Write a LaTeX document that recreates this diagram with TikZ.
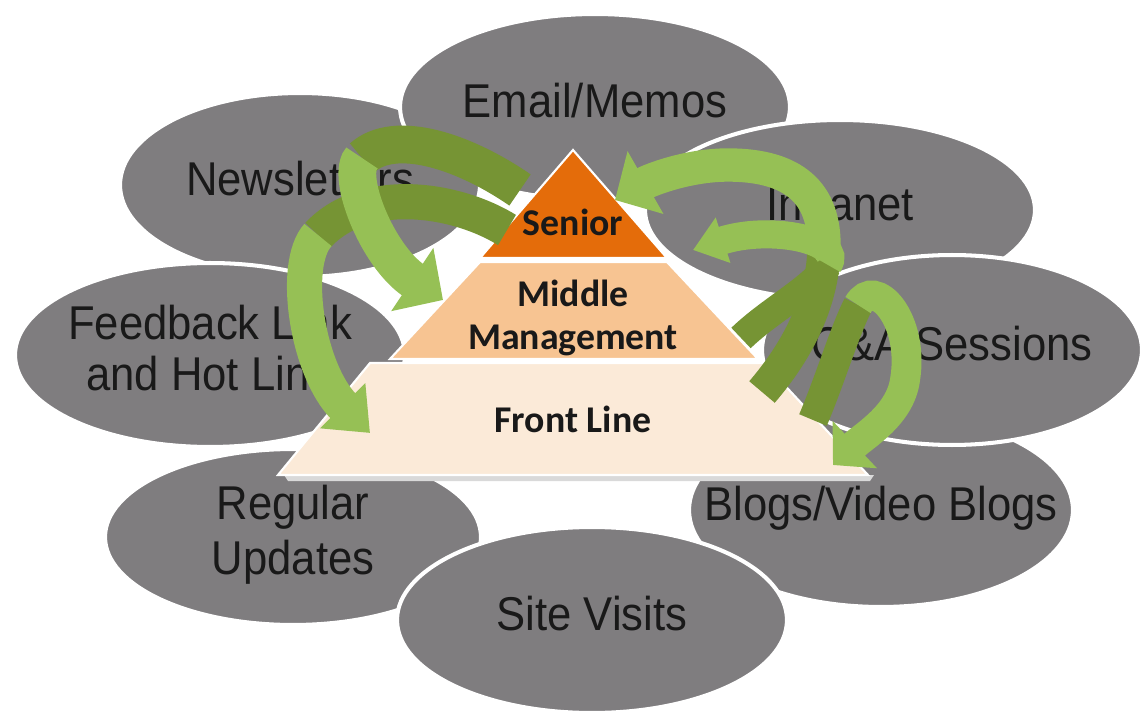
\documentclass[tikz,border=0pt]{standalone}
\usepackage{fontspec}
\usetikzlibrary{shapes.geometric,arrows.meta}

\newfontfamily\chanfont{Liberation Sans}[FakeStretch=0.92]
\newfontfamily\tierfont{Carlito}

\definecolor{chgray}{RGB}{127,125,127}
\definecolor{seniorc}{RGB}{228,108,10}
\definecolor{middlec}{RGB}{247,196,146}
\definecolor{frontc}{RGB}{251,234,216}
\definecolor{darkgr}{RGB}{118,148,52}
\definecolor{lightgr}{RGB}{150,192,85}

\newcommand{\chtext}[1]{\makebox[0pt]{\begin{tabular}{@{}c@{}}#1\end{tabular}}}

\begin{document}
\begin{tikzpicture}[x=0.02cm,y=-0.02cm,
    chan/.style={ellipse,fill=chgray,draw=white,line width=2.3pt,inner sep=0pt,
      font=\chanfont\fontsize{27}{29}\selectfont,text=black!90},
    tier/.style={font=\tierfont\bfseries\fontsize{21.5}{24}\selectfont,text=black!90,align=center},
    band/.style={line width=#1,line cap=butt},
    head/.style 2 args={-{Triangle[width=#1,length=#2]}}]

  \useasboundingbox (0,0) rectangle (1140,716);

  % channels
  \node[chan,minimum width=7.2cm,minimum height=3.68cm](news)at(300,185){\chtext{Newsletters}};
  \node[chan,minimum width=7.8cm,minimum height=3.72cm](email)at(595,107){\chtext{Email/Memos}};
  \node[chan,minimum width=7.8cm,minimum height=3.6cm](intra)at(840,210){\chtext{Intranet}};
  \node[chan,minimum width=7.68cm,minimum height=3.88cm](blogs)at(881,510){\chtext{Blogs/Video Blogs}};
  \node[chan,minimum width=7.6cm,minimum height=3.8cm](qa)at(952,350){\chtext{Q\&A Sessions}};
  \node[chan,minimum width=7.52cm,minimum height=3.52cm](reg)at(293,537){\chtext{Regular\\[2pt]Updates}};
  \node[chan,minimum width=7.8cm,minimum height=3.68cm](feed)at(210,355){\chtext{Feedback Link\\and Hot Line}};
  \node[chan,minimum width=7.8cm,minimum height=3.72cm](site)at(592,620){\chtext{Site Visits}};

  % pyramid
  \fill[black!15] (284,475) -- (874,475) -- (870,481) -- (288,481) -- cycle;
  \filldraw[fill=frontc,draw=white,line width=1.2pt] (278,475) -- (868,475) -- (764,363) -- (370,363) -- cycle;
  \filldraw[fill=middlec,draw=white,line width=1.2pt] (390,359) -- (758,359) -- (667,262) -- (480,262) -- cycle;
  \filldraw[fill=seniorc,draw=white,line width=1.2pt] (480,258) -- (667,258) -- (573,150) -- cycle;
  \node[tier](senior)at(573,222){Senior};
  \node[tier](middle)at(573,318){Middle\\Management};
  \node[tier](front)at(573,419){Front Line};

  % arrow ends
  \coordinate (la-tail) at (520,190);
  \coordinate (la-bend) at (362,158);
  \coordinate (la-tip) at (443,300);
  \coordinate (lb-tail) at (507,230);
  \coordinate (lb-bend) at (318,235);
  \coordinate (lb-tip) at (370,433);
  \coordinate (ra-tail) at (762,392);
  \coordinate (ra-bend) at (824,245);
  \coordinate (ra-top) at (728,165);
  \coordinate (ra-tip) at (615,200);
  \coordinate (rb-tail) at (741,338);
  \coordinate (rb-bend) at (828,265);
  \coordinate (rb-tip) at (693,250);
  \coordinate (rc-tail) at (813,420);
  \coordinate (rc-bend) at (858,305);
  \coordinate (rc-side) at (905,380);
  \coordinate (rc-tip) at (833,465);

  % left arrows
  \draw[darkgr,band=20pt] (lb-tail) .. controls +(-52,-32) and +(47,-50) .. (lb-bend);
  \draw[lightgr,band=20pt,head={35pt}{22pt}] (lb-bend) .. controls +(-27,29) and +(-63,-63) .. (lb-tip);
  \draw[darkgr,band=21.5pt] (la-tail) .. controls +(-55,-38) and +(33,-30) .. (la-bend);
  \draw[lightgr,band=21.5pt,head={42pt}{21pt}] (la-bend) .. controls +(-17,17) and +(-66,-44) .. (la-tip);

  % right arrows
  \draw[darkgr,band=19pt] (ra-tail) .. controls +(36,-42) and +(0,55) .. (ra-bend);
  \draw[lightgr,band=19pt,head={40pt}{20pt}] (ra-bend) .. controls +(0,-58) and +(58,0) .. (ra-top)
    .. controls +(-40,0) and +(35,-20) .. (ra-tip);
  \draw[darkgr,band=17pt] (rc-tail) .. controls +(17,-40) and +(-13,25) .. (rc-bend);
  \draw[lightgr,band=17pt,head={36pt}{17pt}] (rc-bend) .. controls +(17,-30) and +(10,-60) .. (rc-side)
    .. controls +(-5,35) and +(32,-30) .. (rc-tip);
  \draw[darkgr,band=16pt] (rb-tail) .. controls +(29,-28) and +(-18,25) .. (rb-bend);
  \draw[lightgr,band=16pt,head={26pt}{18pt}] (rb-bend) .. controls +(17,-25) and +(77,-25) .. (rb-tip);
\end{tikzpicture}
\end{document}
